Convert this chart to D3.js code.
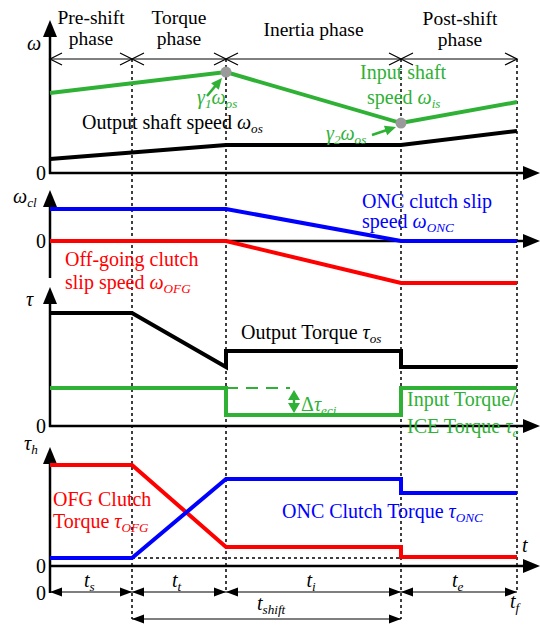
<!DOCTYPE html>
<html>
<head>
<meta charset="utf-8">
<script src="https://cdn.jsdelivr.net/npm/d3@7"></script>
<style>
  body { margin: 0; background: #fff; }
  svg text { font-family: "Liberation Serif", "Times New Roman", serif; }
</style>
</head>
<body>
<div class="canvas"></div>
<script>
// phase boundaries (time units)
const phaseTimes = [0, 0.82, 1.76, 3.51, 4.67];
const phaseNames = [['Pre-shift', 'phase'], ['Torque', 'phase'], ['Inertia phase'], ['Post-shift', 'phase']];
const durationNames = ['s', 't', 'i', 'e'];

// series: [phase boundary index, value]
const inputSpeed = [[0, 5.33], [2, 6.73], [3, 3.33], [4, 4.73]];
const outputSpeed = [[0, 0.93], [2, 1.87], [3, 1.87], [4, 2.8]];
const oncSlip = [[0, 3.2], [2, 3.2], [3, 0], [4, 0]];
const ofgSlip = [[0, 0], [2, 0], [3, -4.2], [4, -4.2]];
const outputTorque = [[0, 11.3], [1, 11.3], [2, 5.9], [2, 7.5], [3, 7.5], [3, 5.9], [4, 5.9]];
const inputTorque = [[0, 3.8], [2, 3.8], [2, 1.1], [3, 1.1], [3, 3.8], [4, 3.8]];
const ofgTorque = [[0, 10.1], [1, 10.1], [2, 1.9], [3, 1.9], [3, 0.9], [4, 0.9]];
const oncTorque = [[0, 0.8], [1, 0.8], [2, 8.7], [3, 8.7], [3, 7.3], [4, 7.3]];

const green = '#2eb135', blue = '#0000ff', red = '#ff0000';
const fs = 20;

const svg = d3.select('.canvas')
  .append('svg')
    .attr('width', 540)
    .attr('height', 626);

const x = d3.scaleLinear().domain([0, 4.9]).range([50, 540]);

// panel y scales (zero line, px per unit)
const y1 = d3.scaleLinear().domain([0, 10]).range([173, 23]);
const y2 = d3.scaleLinear().domain([0, 10]).range([241, 141]);
const y3 = d3.scaleLinear().domain([0, 10]).range([426, 326]);
const y4 = d3.scaleLinear().domain([0, 10]).range([566, 466]);

const tx = i => x(phaseTimes[i]);

// filled arrow head with tip at (px,py) pointing in direction ang (radians)
function head(px, py, ang, len, hw, col) {
  const c = Math.cos(ang), s = Math.sin(ang);
  const bx = px - c * len, by = py - s * len;
  svg.append('path')
    .attr('d', `M${px},${py}L${bx - s * hw},${by + c * hw}L${bx + s * hw},${by - c * hw}Z`)
    .attr('fill', col || '#000');
}

// text with italic / subscript parts
function label(px, py, parts, col, size) {
  size = size || fs;
  const t = svg.append('text')
    .attr('x', px).attr('y', py)
    .attr('fill', col || '#000')
    .attr('font-size', size);
  let shifted = 0;
  parts.forEach(p => {
    const [str, st] = p;
    const ts = t.append('tspan').text(str);
    if (st === 'i') ts.attr('font-style', 'italic');
    if (st === 's') {
      ts.attr('font-style', 'italic').attr('font-size', size * 0.66).attr('dy', 4 - shifted);
      shifted = 4;
    } else if (shifted) {
      ts.attr('dy', -shifted);
      shifted = 0;
    }
  });
  return t;
}

// dotted phase boundaries
[[1, 619], [2, 592], [3, 619], [4, 592]].forEach(([i, yb]) => {
  svg.append('line')
    .attr('x1', tx(i)).attr('x2', tx(i))
    .attr('y1', 59).attr('y2', yb)
    .attr('stroke', '#000').attr('stroke-width', 1.5)
    .attr('stroke-dasharray', '3,3');
});

// phase arrow line with X marks
svg.append('line')
  .attr('x1', tx(0)).attr('x2', tx(4)).attr('y1', 59).attr('y2', 59)
  .attr('stroke', '#000').attr('stroke-width', 1);
phaseTimes.forEach((t, i) => {
  const px = x(t);
  const d = [];
  if (i > 0) d.push(`M${px - 12},${53}L${px},${59}L${px - 12},${65}`);
  if (i < phaseTimes.length - 1) d.push(`M${px + 12},${53}L${px},${59}L${px + 12},${65}`);
  svg.append('path').attr('d', d.join('')).attr('fill', 'none')
    .attr('stroke', '#000').attr('stroke-width', 1.2);
});

// phase names
const nameY = [[24, 45], [24, 45], [36], [25, 46]];
phaseNames.forEach((lines, i) => {
  const cx = (tx(i) + tx(i + 1)) / 2 + (i === 3 ? 1 : 0);
  lines.forEach((s, j) => {
    svg.append('text')
      .attr('x', cx).attr('y', nameY[i][j])
      .attr('text-anchor', 'middle')
      .attr('font-size', 19.5)
      .text(s);
  });
});

// axes
const axisStroke = 2.5;
function vAxis(yb, yt) {
  svg.append('line').attr('x1', 50).attr('x2', 50).attr('y1', yb).attr('y2', yt + 12)
    .attr('stroke', '#000').attr('stroke-width', axisStroke);
  head(50, yt, -Math.PI / 2, 17, 7);
}
function hAxis(yy) {
  svg.append('line').attr('x1', 49).attr('x2', 528).attr('y1', yy).attr('y2', yy)
    .attr('stroke', '#000').attr('stroke-width', axisStroke);
  head(540, yy, 0, 17, 7);
}
vAxis(174, 20);
vAxis(278, 190);
vAxis(427, 287);
vAxis(593, 447);
hAxis(y1(0));
hAxis(y2(0));
hAxis(y3(0));
hAxis(y4(0));

// zero labels
[y1(0), y2(0), y3(0), y4(0), 593].forEach(yy => {
  svg.append('text').attr('x', 46).attr('y', yy + 7)
    .attr('text-anchor', 'end').attr('font-size', fs).text('0');
});

// axis names
label(27, 50, [['ω', 'i']]);
label(13, 203, [['ω', 'i'], ['cl', 's']]);
label(26, 306, [['τ', 'i']]);
label(24, 450, [['τ', 'i'], ['h', 's']]);
label(522, 552, [['t', 'i']]);

// series lines
const line = ys => d3.line().x(d => tx(d[0])).y(d => ys(d[1]));
function series(data, ys, col) {
  svg.append('path')
    .attr('d', line(ys)(data))
    .attr('fill', 'none')
    .attr('stroke', col)
    .attr('stroke-width', 4)
    .attr('stroke-linejoin', 'miter');
}

// dashed reference for input torque
svg.append('line')
  .attr('x1', tx(2)).attr('x2', 290)
  .attr('y1', y3(inputTorque[0][1])).attr('y2', y3(inputTorque[0][1]))
  .attr('stroke', green).attr('stroke-width', 1.8)
  .attr('stroke-dasharray', '12,8');

// dashed zero-level for ONC torque
svg.append('line')
  .attr('x1', tx(1)).attr('x2', tx(3))
  .attr('y1', y4(oncTorque[0][1])).attr('y2', y4(oncTorque[0][1]))
  .attr('stroke', '#000').attr('stroke-width', 1.3)
  .attr('stroke-dasharray', '3,3');

series(outputSpeed, y1, '#000');
series(inputSpeed, y1, green);
series(ofgSlip, y2, red);
series(oncSlip, y2, blue);
series(outputTorque, y3, '#000');
series(inputTorque, y3, green);
series(ofgTorque, y4, red);
series(oncTorque, y4, blue);

// synchronisation points
[inputSpeed[1], inputSpeed[2]].forEach(d => {
  svg.append('circle').attr('cx', tx(d[0])).attr('cy', y1(d[1])).attr('r', 5.5)
    .attr('fill', '#9a9a9a');
});

// gamma arrows
function arrow(xa, ya, xb, yb, col) {
  const ang = Math.atan2(yb - ya, xb - xa);
  svg.append('line').attr('x1', xa).attr('y1', ya)
    .attr('x2', xb - Math.cos(ang) * 8).attr('y2', yb - Math.sin(ang) * 8)
    .attr('stroke', col).attr('stroke-width', 2.5);
  head(xb, yb, ang, 11, 5, col);
}
arrow(207, 96, 222, 78, green);
arrow(372, 135, 396, 127, green);

// delta tau arrow
svg.append('line').attr('x1', 294).attr('x2', 294).attr('y1', 396).attr('y2', 408)
  .attr('stroke', green).attr('stroke-width', 2.5);
head(294, y3(inputTorque[0][1]) + 2, -Math.PI / 2, 10, 6, green);
head(294, y3(inputTorque[2][1]) - 2, Math.PI / 2, 10, 6, green);

// labels
label(197, 104, [['γ', 'i'], ['1', 's'], ['ω', 'i'], ['os', 's']], green);
label(82, 129, [['Output shaft speed '], ['ω', 'i'], ['os', 's']]);
label(360, 79, [['Input shaft']], green);
label(367, 104, [['speed '], ['ω', 'i'], ['is', 's']], green);
label(326, 140, [['γ', 'i'], ['2', 's'], ['ω', 'i'], ['os', 's']], green);
label(362, 208, [['ONC clutch slip']], blue);
label(362, 228, [['speed '], ['ω', 'i'], ['ONC', 's']], blue);
label(65, 266, [['Off-going clutch']], red);
label(65, 289, [['slip speed '], ['ω', 'i'], ['OFG', 's']], red);
label(241, 339, [['Output Torque '], ['τ', 'i'], ['os', 's']]);
label(301, 411, [['Δ'], ['τ', 'i'], ['eci', 's']], green);
label(407, 406, [['Input Torque/']], green);
label(407, 433, [['ICE Torque '], ['τ', 'i'], ['e', 's']], green);
label(53, 506, [['OFG Clutch']], red);
label(53, 528, [['Torque '], ['τ', 'i'], ['OFG', 's']], red);
label(282, 518, [['ONC Clutch Torque '], ['τ', 'i'], ['ONC', 's']], blue);

// duration dimension arrows
const dimY = 592;
svg.append('line').attr('x1', tx(0)).attr('x2', tx(4)).attr('y1', dimY).attr('y2', dimY)
  .attr('stroke', '#000').attr('stroke-width', 1.2);
durationNames.forEach((n, i) => {
  head(tx(i), dimY, Math.PI, 12, 4.5);
  head(tx(i + 1), dimY, 0, 12, 4.5);
  label((tx(i) + tx(i + 1)) / 2 - 7, 587, [['t', 'i'], [n, 's']]);
});
svg.append('line').attr('x1', tx(1)).attr('x2', tx(3)).attr('y1', 619).attr('y2', 619)
  .attr('stroke', '#000').attr('stroke-width', 1.2);
head(tx(1), 619, Math.PI, 12, 4.5);
head(tx(3), 619, 0, 12, 4.5);
label(257, 610, [['t', 'i'], ['shift', 's']]);
label(510, 608, [['t', 'i'], ['f', 's']]);
</script>
</body>
</html>
